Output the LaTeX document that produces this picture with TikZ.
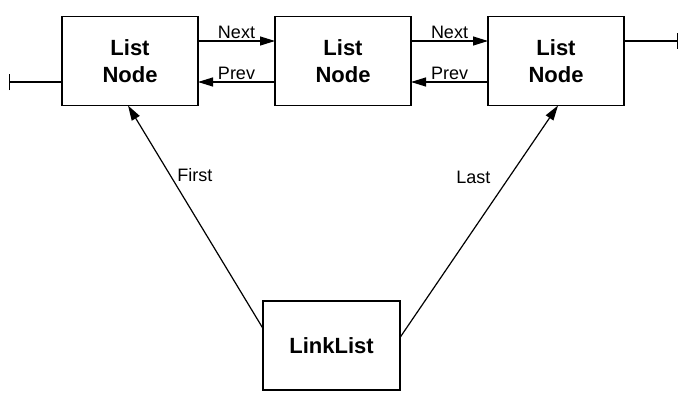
\documentclass[tikz,border=0pt]{standalone}
\usepackage{fontspec}
\setmainfont{Liberation Sans}
\usetikzlibrary{arrows.meta,positioning}
\tikzset{
  lnode/.style ={draw, line width=1.8pt, align=center, font=\fontsize{22}{27}\selectfont\bfseries, minimum width=136pt, minimum height=89pt, inner sep=0pt, outer sep=0pt},
  link/.style  ={-{Triangle[length=15pt, width=9pt]}, line width=1.2pt},
  stub/.style  ={-{Bar[width=16pt, line width=1.2pt]}, line width=1.2pt},
  lbl/.style   ={font=\fontsize{18}{20}\selectfont, inner sep=2pt},
}

\begin{document}
\begin{tikzpicture}[x=1pt, y=1pt, node distance=77pt]
  \useasboundingbox (0,0) rectangle (695,-413);

  % ---- the chain of list nodes ----
  \node[lnode] (n1) at (130,-61) {List\\Node};
  \node[lnode, right=of n1] (n2) {List\\Node};
  \node[lnode, right=of n2] (n3) {List\\Node};

  % ---- the list itself ----
  \node[lnode, minimum width=137pt] (ll) at (331.5,-345.5) {LinkList};

  % ---- next / prev links ----
  \draw[link] ([yshift=20pt]n1.east) -- node[lbl, above] {Next} ([yshift=20pt]n2.west);
  \draw[link] ([yshift=20pt]n2.east) -- node[lbl, above] {Next} ([yshift=20pt]n3.west);
  \draw[link] ([yshift=-21pt]n2.west) -- node[lbl, above] {Prev} ([yshift=-21pt]n1.east);
  \draw[link] ([yshift=-21pt]n3.west) -- node[lbl, above] {Prev} ([yshift=-21pt]n2.east);

  % ---- null ends ----
  \coordinate (lend) at (9,-82);
  \coordinate (rend) at (678,-41);
  \draw[stub] ([yshift=-21pt]n1.west) -- (lend);
  \draw[stub] ([yshift=20pt]n3.east) -- (rend);

  % ---- first / last ----
  \draw[link] ([yshift=17pt]ll.west) -- node[lbl, pos=0.69, right=5pt] {First} ([xshift=-2pt]n1.south);
  \draw[link] ([yshift=8pt]ll.east) -- node[lbl, pos=0.69, left=16pt] {Last} ([xshift=2pt]n3.south);
\end{tikzpicture}
\end{document}
